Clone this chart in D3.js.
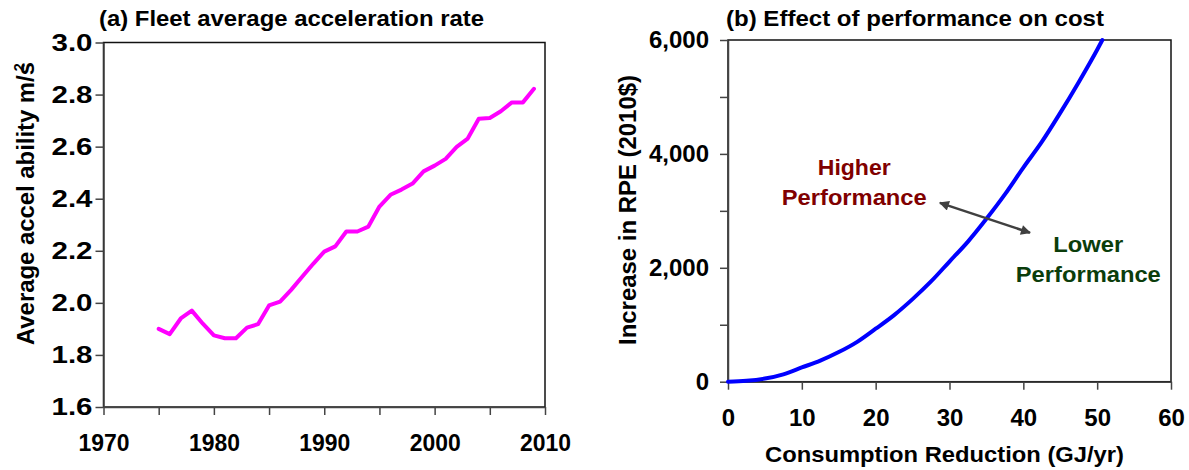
<!DOCTYPE html>
<html>
<head>
<meta charset="utf-8">
<script src="https://cdn.jsdelivr.net/npm/d3@7"></script>
<style>
  body { margin: 0; background: #fff; }
  text { font-family: "Liberation Sans", Arial, sans-serif; font-weight: bold; }
</style>
</head>
<body>
<svg id="chart" width="1189" height="470"></svg>
<script>
// (a) fleet average acceleration
const accelYears = [1975, 1976, 1977, 1978, 1979, 1980, 1981, 1982, 1983, 1984,
    1985, 1986, 1987, 1988, 1989, 1990, 1991, 1992, 1993, 1994,
    1995, 1996, 1997, 1998, 1999, 2000, 2001, 2002, 2003, 2004,
    2005, 2006, 2007, 2008, 2009];
const accelValues = [1.90, 1.88, 1.94, 1.97, 1.92, 1.875, 1.864, 1.864, 1.905, 1.918,
    1.99, 2.005, 2.05, 2.10, 2.15, 2.197, 2.217, 2.274, 2.274, 2.293,
    2.37, 2.415, 2.435, 2.458, 2.505, 2.527, 2.553, 2.599, 2.631, 2.707,
    2.71, 2.736, 2.77, 2.77, 2.822];
const accelXTicks = [1970, 1975, 1980, 1985, 1990, 1995, 2000, 2005, 2010];
const accelYTicks = [1.6, 1.8, 2.0, 2.2, 2.4, 2.6, 2.8, 3.0];

// (b) cost vs consumption reduction
const costReduction = [0, 2.5, 5, 7.5, 10, 12.5, 15, 17.5, 20, 22.5, 25,
    27.5, 30, 32.5, 35, 37.5, 40, 42.5, 45, 47.5, 50, 50.7];
const costRPE = [0, 15, 55, 130, 250, 370, 520, 700, 930, 1170, 1450,
    1760, 2110, 2460, 2860, 3290, 3760, 4210, 4720, 5260, 5830, 6000];
const costXTicks = [0, 10, 20, 30, 40, 50, 60];
const costYTicks = [0, 1000, 2000, 3000, 4000, 5000, 6000];

// annotation: arrow ends and label lines in data units
const arrowEnds = [[28.7, 3140], [40.9, 2615]];
const higherLines = ["Higher", "Performance"];
const higherAt = [17.1, 3630];
const lowerLines = ["Lower", "Performance"];
const lowerAt = [48.8, 2283];

const svg = d3.select("#chart");

let styleAxis = (g, labelWidth) => {
    g.select(".domain").attr("stroke", "#444").attr("stroke-width", 1.5);
    g.selectAll(".tick line").attr("stroke", "#444").attr("stroke-width", 1.5);
    const t = g.selectAll(".tick text")
        .attr("fill", "#000")
        .style("font-size", "24px")
        .style("font-family", '"Liberation Sans", Arial, sans-serif')
        .style("font-weight", "bold");
    if (labelWidth) {
        t.filter(function() { return this.textContent !== ""; })
            .attr("textLength", labelWidth)
            .attr("lengthAdjust", "spacingAndGlyphs");
    }
};

// ---------- panel (a)
const ax = d3.scaleLinear().domain([1970, 2010]).range([103.5, 545]);
const ay = d3.scaleLinear().domain([1.6, 3.0]).range([407, 42.5]);

svg.append("rect")
    .attr("x", ax(1970)).attr("y", ay(3.0))
    .attr("width", ax(2010) - ax(1970)).attr("height", ay(1.6) - ay(3.0))
    .attr("fill", "none").attr("stroke", "#111").attr("stroke-width", 1.5);

svg.append("g")
    .attr("transform", `translate(0,${ay(1.6)})`)
    .call(d3.axisBottom(ax).tickValues(accelXTicks)
        .tickFormat(d => d % 10 === 0 ? d : "")
        .tickSize(8).tickSizeOuter(0).tickPadding(19))
    .call(g => styleAxis(g, 51));

svg.append("g")
    .attr("transform", `translate(${ax(1970)},0)`)
    .call(d3.axisLeft(ay).tickValues(accelYTicks)
        .tickFormat(d3.format(".1f"))
        .tickSize(8).tickSizeOuter(0).tickPadding(3))
    .call(g => styleAxis(g, 41));

svg.append("path")
    .datum(accelYears.map((d, i) => [d, accelValues[i]]))
    .attr("fill", "none")
    .attr("stroke", "#ff00ff")
    .attr("stroke-width", 4)
    .attr("stroke-linejoin", "round")
    .attr("stroke-linecap", "round")
    .attr("d", d3.line().x(d => ax(d[0])).y(d => ay(d[1])));

svg.append("text")
    .attr("x", 99).attr("y", 26)
    .attr("textLength", 385).attr("lengthAdjust", "spacingAndGlyphs")
    .style("font-size", "22px")
    .text("(a) Fleet average acceleration rate");

const aLabel = svg.append("text")
    .attr("transform", "translate(34,345) rotate(-90)")
    .attr("textLength", 283).attr("lengthAdjust", "spacingAndGlyphs")
    .style("font-size", "23px");
aLabel.append("tspan").text("Average accel ability m/s");
aLabel.append("tspan").attr("dy", -10).attr("dx", -9).style("font-size", "14px").text("2");

// ---------- panel (b)
const bx = d3.scaleLinear().domain([0, 60]).range([728, 1171]);
const by = d3.scaleLinear().domain([0, 6000]).range([381.7, 40]);

svg.append("rect")
    .attr("x", bx(0)).attr("y", by(6000))
    .attr("width", bx(60) - bx(0)).attr("height", by(0) - by(6000))
    .attr("fill", "none").attr("stroke", "#111").attr("stroke-width", 1.5);

svg.append("g")
    .attr("transform", `translate(0,${by(0)})`)
    .call(d3.axisBottom(bx).tickValues(costXTicks)
        .tickSize(8).tickSizeOuter(0).tickPadding(19))
    .call(g => styleAxis(g, null));

svg.append("g")
    .attr("transform", `translate(${bx(0)},0)`)
    .call(d3.axisLeft(by).tickValues(costYTicks)
        .tickFormat(d => d % 2000 === 0 ? d3.format(",")(d) : "")
        .tickSize(8).tickSizeOuter(0).tickPadding(11))
    .call(g => styleAxis(g, null));

svg.append("path")
    .datum(costReduction.map((d, i) => [d, costRPE[i]]))
    .attr("fill", "none")
    .attr("stroke", "#0000ff")
    .attr("stroke-width", 4)
    .attr("stroke-linecap", "round")
    .attr("d", d3.line().x(d => bx(d[0])).y(d => by(d[1])).curve(d3.curveMonotoneX));

svg.append("text")
    .attr("x", 726).attr("y", 26)
    .attr("textLength", 378).attr("lengthAdjust", "spacingAndGlyphs")
    .style("font-size", "22px")
    .text("(b) Effect of performance on cost");

svg.append("text")
    .attr("transform", "translate(636,345) rotate(-90)")
    .attr("textLength", 270).attr("lengthAdjust", "spacingAndGlyphs")
    .style("font-size", "23px")
    .text("Increase in RPE (2010$)");

svg.append("text")
    .attr("x", (bx(0) + bx(60)) / 2 - 5).attr("y", 462)
    .attr("text-anchor", "middle")
    .attr("textLength", 359).attr("lengthAdjust", "spacingAndGlyphs")
    .style("font-size", "22px")
    .text("Consumption Reduction (GJ/yr)");

// arrow
const defs = svg.append("defs");
defs.append("marker")
    .attr("id", "head")
    .attr("viewBox", "0 0 10 10")
    .attr("refX", 9).attr("refY", 5)
    .attr("markerWidth", 14).attr("markerHeight", 10)
    .attr("markerUnits", "userSpaceOnUse")
    .attr("orient", "auto-start-reverse")
    .append("path").attr("d", "M0,0L10,5L0,10z").attr("fill", "#404040");

svg.append("line")
    .attr("x1", bx(arrowEnds[0][0])).attr("y1", by(arrowEnds[0][1]))
    .attr("x2", bx(arrowEnds[1][0])).attr("y2", by(arrowEnds[1][1]))
    .attr("stroke", "#404040").attr("stroke-width", 2.5)
    .attr("marker-start", "url(#head)").attr("marker-end", "url(#head)");

let addNote = (lines, widths, at, color) => {
    const t = svg.append("text")
        .attr("text-anchor", "middle")
        .attr("fill", color)
        .style("font-size", "22px");
    lines.forEach((s, i) => {
        t.append("tspan")
            .attr("x", bx(at[0]))
            .attr("y", by(at[1]) + i * 30)
            .attr("textLength", widths[i])
            .attr("lengthAdjust", "spacingAndGlyphs")
            .text(s);
    });
};
addNote(higherLines, [73, 145], higherAt, "#800000");
addNote(lowerLines, [70, 145], lowerAt, "#0b3d0b");
</script>
</body>
</html>
